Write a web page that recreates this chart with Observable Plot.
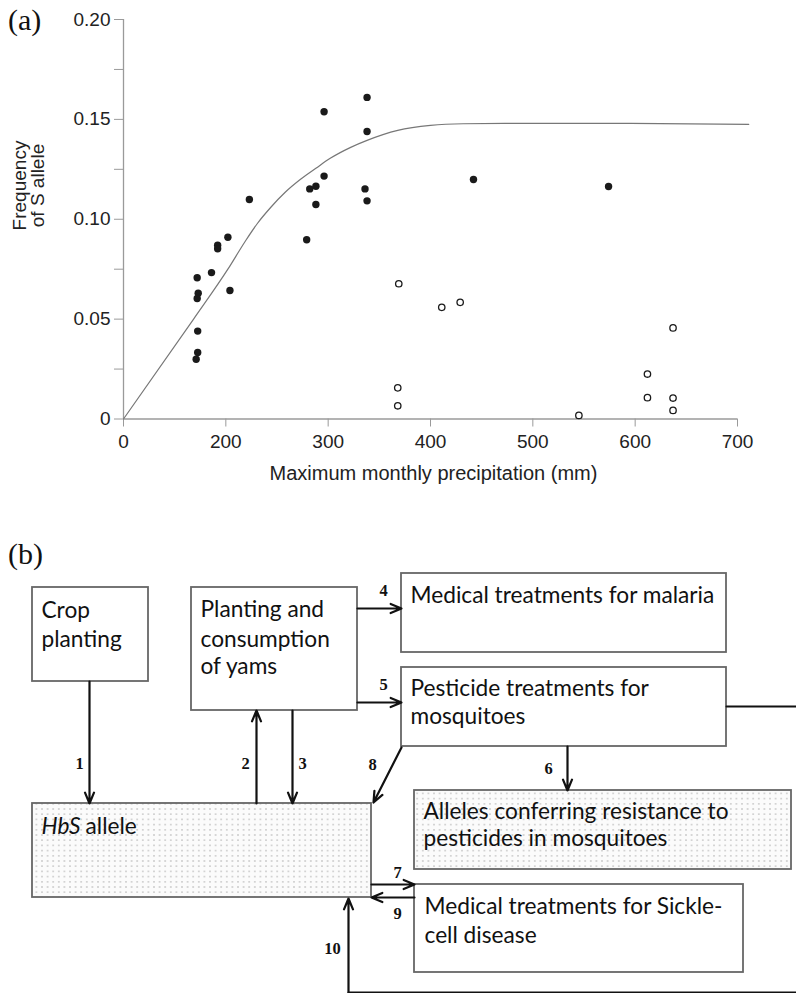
<!DOCTYPE html>
<html><head><meta charset="utf-8">
<script src="https://cdn.jsdelivr.net/npm/d3@7"></script>
<script src="https://cdn.jsdelivr.net/npm/@observablehq/plot@0.6"></script>
<style>
body{margin:0;background:#fff;width:796px;height:993px;position:relative;overflow:hidden;}
.panel{position:absolute;left:8px;font-family:"Liberation Serif","DejaVu Serif",serif;font-size:30px;line-height:30px;color:#111;}
#a,#b{position:absolute;left:0;}
</style></head><body>
<div id="a" style="top:0"></div>
<div id="b" style="top:510px"></div>
<div class="panel" style="top:5px">(a)</div>
<div class="panel" style="top:539px">(b)</div>
<script>
// ---------- Panel (a): data ----------
const filledPrecip = [144,146,144,172,184,184,202,204,223,145,145,142,279,282,288,288,296,336,338,296,338,338,442,574];
const filledFreq   = [0.0707,0.0630,0.0603,0.0733,0.0870,0.0852,0.0910,0.0643,0.1099,0.0440,0.0333,0.0299,0.0897,0.1152,0.1165,0.1074,0.1216,0.1152,0.1092,0.1538,0.1610,0.1439,0.1199,0.1164];
const openPrecip = [369,411,429,368,368,545,612,612,637,637,637];
const openFreq   = [0.0677,0.0559,0.0584,0.0156,0.0066,0.0018,0.0225,0.0107,0.0456,0.0105,0.0043];
const fitPrecip = [0,137,202,219,231,244,258,273,288,302,322,338,368,400,432,498,595,711];
const fitFreq   = [0,0.05,0.075,0.089,0.098,0.106,0.1135,0.120,0.1255,0.1305,0.136,0.1395,0.1445,0.147,0.1478,0.148,0.148,0.1475];
const xTicks = [0,200,300,400,500,600,700];
const yTicks = [0,0.025,0.05,0.075,0.1,0.125,0.15,0.175,0.2];
const xTitle = "Maximum monthly precipitation (mm)";
const yTitle = "Frequency\nof S allele";

// ---------- Panel (b): diagram layout ----------
const boxLeft   = [32, 191, 401, 401, 32, 414, 414];
const boxTop    = [587, 587, 573, 667, 803, 790, 884];
const boxRight  = [148, 357, 726, 726, 371, 791, 743];
const boxBottom = [681, 710, 652, 746, 897, 869, 972];
const boxDotted = [false,false,false,false,true,true,false];

const lineText = ["Crop","planting","Planting and","consumption","of yams","Medical treatments for malaria","Pesticide treatments for","mosquitoes","allele","Alleles conferring resistance to","pesticides in mosquitoes","Medical treatments for Sickle-","cell disease"];
const lineX = [41,41,200,200,200,410,410,410,85,423,423,424,424];
const lineY = [617,646,616,646,673,602,695,723,833,818,845,913,942];
const italicText = ["HbS"];
const italicX = [41];
const italicY = [833];

const arrowX1 = [89, 256, 292, 357, 357, 567, 371, 401, 414, 348];
const arrowY1 = [681, 803, 710, 608, 702, 746, 884, 747, 897, 992];
const arrowX2 = [89, 256, 292, 401, 401, 567, 414, 373, 371, 348];
const arrowY2 = [803, 710, 803, 608, 702, 790, 884, 802, 897, 898];
const arrowLabel = ["1","2","3","4","5","6","7","8","9","10"];
const labelX = [79, 245, 302, 383, 383, 548, 397, 372, 397, 332];
const labelY = [763, 763, 763, 590, 684, 768, 872, 764, 913, 948];
const loopX = [726, 800, 800, 348];
const loopY = [706, 706, 992, 992];

// ---------- build tables ----------
const filled = filledPrecip.map((x, i) => ({x, y: filledFreq[i]}));
const open = openPrecip.map((x, i) => ({x, y: openFreq[i]}));
const fit = fitPrecip.map((x, i) => ({x, y: fitFreq[i]}));

const plotA = Plot.plot({
  width: 796, height: 500,
  marginLeft: 123, marginRight: 59, marginTop: 19, marginBottom: 81.5,
  style: {fontFamily: "'Liberation Sans', Arial, sans-serif", fontSize: "19px", color: "#222", background: "white"},
  x: {type: "linear", domain: xTicks},
  y: {domain: [0, 0.2]},
  marks: [
    Plot.ruleY([0], {stroke: "#9a9a9a", strokeWidth: 1.3}),
    Plot.ruleX([0], {stroke: "#9a9a9a", strokeWidth: 1.3}),
    Plot.axisX(xTicks, {tickSize: 8, tickPadding: 7, tickFormat: d => String(d), label: null, stroke: "#9a9a9a", fill: "#222", fontSize: 19}),
    Plot.axisY(yTicks, {tickSize: 9, tickPadding: 4, label: null, stroke: "#9a9a9a", fill: "#222", fontSize: 19,
      tickFormat: d => d === 0 ? "0" : (Math.round(d * 1000) % 50 === 0 ? d.toFixed(2) : "")}),
    Plot.line(fit, {x: "x", y: "y", curve: "monotone-x", stroke: "#777", strokeWidth: 1.2}),
    Plot.dot(filled, {x: "x", y: "y", r: 3.7, fill: "#1a1a1a", stroke: "none"}),
    Plot.dot(open, {x: "x", y: "y", r: 3.2, fill: "white", stroke: "#1a1a1a", strokeWidth: 1.3}),
    Plot.text([yTitle], {frameAnchor: "left", rotate: -90, dx: -94.3, dy: -33.75, lineHeight: 0.95, fontSize: 19, textAnchor: "middle", lineAnchor: "middle", fill: "#222"}),
    Plot.text([xTitle], {frameAnchor: "bottom", dy: 60.5, dx: 3, lineAnchor: "bottom", fontSize: 20, fill: "#222"})
  ]
});
document.getElementById("a").append(plotA);

const boxes = boxLeft.map((x1, i) => ({x1, y1: boxTop[i], x2: boxRight[i], y2: boxBottom[i], dotted: boxDotted[i]}));
const lines = lineText.map((text, i) => ({text, x: lineX[i], y: lineY[i]}));
const italics = italicText.map((text, i) => ({text, x: italicX[i], y: italicY[i]}));
const arrows = arrowX1.map((x1, i) => ({x1, y1: arrowY1[i], x2: arrowX2[i], y2: arrowY2[i]}));
const labels = arrowLabel.map((text, i) => ({text, x: labelX[i], y: labelY[i]}));
const loop = loopX.map((x, i) => ({x, y: loopY[i]}));

const plotB = Plot.plot({
  width: 796, height: 483, margin: 0,
  x: {domain: [0, 796], axis: null},
  y: {domain: [993, 510], axis: null},
  style: {background: "transparent"},
  marks: [
    Plot.rect(boxes.filter(d => !d.dotted), {x1: "x1", y1: "y1", x2: "x2", y2: "y2", fill: "white", stroke: "#666", strokeWidth: 1.8}),
    Plot.rect(boxes.filter(d => d.dotted), {x1: "x1", y1: "y1", x2: "x2", y2: "y2", fill: "url(#dots)", stroke: "#666", strokeWidth: 1.8}),
    Plot.line(loop, {x: "x", y: "y", stroke: "#111", strokeWidth: 2}),
    Plot.arrow(arrows, {x1: "x1", y1: "y1", x2: "x2", y2: "y2", stroke: "#111", strokeWidth: 2.2, headLength: 8, headAngle: 45}),
    Plot.text(lines, {x: "x", y: "y", text: "text", textAnchor: "start", lineAnchor: "bottom", fontFamily: "Lato", fontSize: 22.7, fill: "#111"}),
    Plot.text(italics, {x: "x", y: "y", text: "text", textAnchor: "start", lineAnchor: "bottom", fontFamily: "Lato", fontStyle: "italic", fontSize: 22.7, fill: "#111"}),
    Plot.text(labels, {x: "x", y: "y", text: "text", lineAnchor: "middle", fontFamily: "'Liberation Serif', serif", fontWeight: "bold", fontSize: 16.5, fill: "#111"})
  ]
});
plotB.insertAdjacentHTML("afterbegin", '<defs><pattern id="dots" patternUnits="userSpaceOnUse" width="5.6" height="5.2"><rect width="5.6" height="5.2" fill="#fbfbfb"/><circle cx="2.8" cy="2.6" r="0.7" fill="#999"/></pattern></defs>');
document.getElementById("b").append(plotB);
</script>
</body></html>
